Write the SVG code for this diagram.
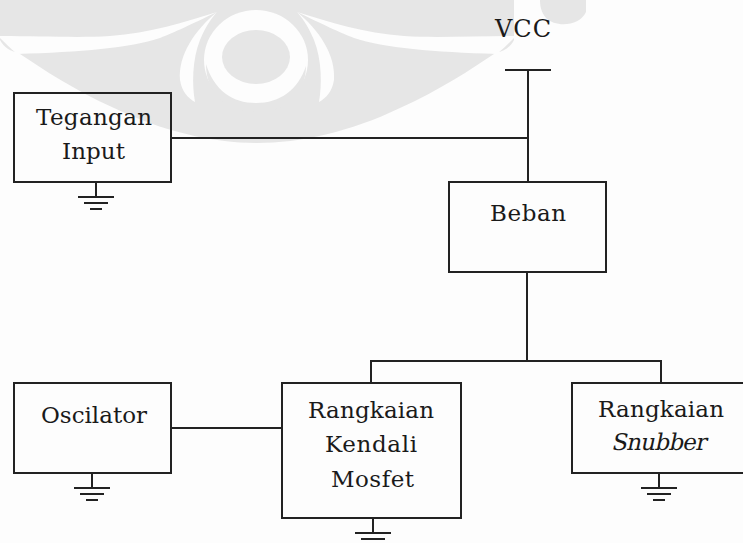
<svg xmlns="http://www.w3.org/2000/svg" xmlns:xlink="http://www.w3.org/1999/xlink" width="743" height="543" viewBox="0 0 743 543">
<style>
.box{fill:none;stroke:#222;stroke-width:2}
.wire{fill:none;stroke:#222;stroke-width:2}
.lbl{font-family:'DejaVu Serif','Liberation Serif',serif;font-size:23px;fill:#1a1a1a}
.wm{fill:#e6e6e6}
.wh{fill:#fdfdfd}
</style>
<defs>
<g id="gnd" class="wire">
<line x1="0" y1="0" x2="0" y2="15"/>
<line x1="-18" y1="15" x2="18" y2="15"/>
<line x1="-12" y1="21" x2="12" y2="21"/>
<line x1="-6" y1="27" x2="6" y2="27"/>
</g>
</defs>
<rect width="743" height="543" fill="#fdfdfd"/>
<g id="watermark">
<path class="wm" d="M0,0 L514,0 L514,40 C510,48 502,52 497,52 C470,70 440,90 400,108 C350,132 300,143 257,143 C214,143 164,132 114,108 C74,90 44,70 17,52 C12,52 4,48 0,40 Z"/>
<path class="wm" d="M540,0 L586,0 L586,12 C580,26 556,28 546,18 C541,12 540,6 540,0 Z"/>
<path class="wh" d="M0,36 C40,36 80,38 110,36 C150,33 185,22 217,12 C190,25 175,32 160,38 C130,48 80,52 17,54 C10,48 4,42 0,38 Z"/>
<path class="wh" d="M514,36 C474,36 434,38 404,36 C364,33 329,22 297,12 C324,25 339,32 354,38 C384,48 434,52 497,54 C504,48 510,42 514,38 Z"/>
<path class="wh" d="M217,12 C195,30 178,55 180,80 C182,92 188,98 195,102 C192,85 192,60 200,40 C205,28 210,20 217,12 Z"/>
<path class="wh" d="M297,12 C319,30 336,55 334,80 C332,92 326,98 319,102 C322,85 322,60 314,40 C309,28 304,20 297,12 Z"/>
<ellipse class="wh" cx="256" cy="60" rx="52" ry="50"/>
<path class="wm" d="M206,64 C206,95 228,112 256,112 C284,112 306,95 306,66 C298,90 280,103 256,103 C232,103 214,90 206,64 Z"/>
<ellipse class="wm" cx="256" cy="57" rx="34" ry="27"/>
</g>
<g id="connectors">
<line class="wire" x1="505" y1="70" x2="551" y2="70"/>
<line class="wire" x1="528" y1="70" x2="528" y2="182"/>
<line class="wire" x1="171" y1="138" x2="528" y2="138"/>
<line class="wire" x1="527" y1="272" x2="527" y2="361"/>
<polyline class="wire" points="371,383 371,361 661,361 661,383"/>
<line class="wire" x1="171" y1="428" x2="282" y2="428"/>
</g>
<g id="vcc">
<text class="lbl" x="495" y="37" textLength="56" lengthAdjust="spacing" font-family="DejaVu Serif, Liberation Serif, serif" style="font-size:24px">VCC</text>
</g>
<g id="tegangan-input">
<rect class="box" x="14" y="93" width="157" height="89"/>
<text class="lbl" x="36" y="125" textLength="116" lengthAdjust="spacing" font-family="DejaVu Serif, Liberation Serif, serif">Tegangan</text>
<text class="lbl" x="62" y="159" textLength="63" lengthAdjust="spacing" font-family="DejaVu Serif, Liberation Serif, serif">Input</text>
<use xlink:href="#gnd" x="96" y="182"/>
</g>
<g id="beban">
<rect class="box" x="449" y="182" width="157" height="90"/>
<text class="lbl" x="490" y="221" textLength="76" lengthAdjust="spacing" font-family="DejaVu Serif, Liberation Serif, serif">Beban</text>
</g>
<g id="oscilator">
<rect class="box" x="14" y="383" width="157" height="90"/>
<text class="lbl" x="41" y="423" textLength="106" lengthAdjust="spacing" font-family="DejaVu Serif, Liberation Serif, serif">Oscilator</text>
<use xlink:href="#gnd" x="92" y="473"/>
</g>
<g id="rangkaian-kendali-mosfet">
<rect class="box" x="282" y="383" width="179" height="135"/>
<text class="lbl" x="308" y="418" textLength="126" lengthAdjust="spacing" font-family="DejaVu Serif, Liberation Serif, serif">Rangkaian</text>
<text class="lbl" x="325" y="452" textLength="92" lengthAdjust="spacing" font-family="DejaVu Serif, Liberation Serif, serif">Kendali</text>
<text class="lbl" x="331" y="487" textLength="83" lengthAdjust="spacing" font-family="DejaVu Serif, Liberation Serif, serif">Mosfet</text>
<use xlink:href="#gnd" x="373" y="518"/>
</g>
<g id="rangkaian-snubber">
<rect class="box" x="572" y="383" width="200" height="90"/>
<text class="lbl" x="598" y="417" textLength="126" lengthAdjust="spacing" font-family="DejaVu Serif, Liberation Serif, serif">Rangkaian</text>
<g transform="translate(611,450) skewX(-12)">
<text class="lbl" x="0" y="0" textLength="95" lengthAdjust="spacing" font-family="DejaVu Serif, Liberation Serif, serif">Snubber</text>
</g>
<use xlink:href="#gnd" x="659" y="473"/>
</g>
</svg>
